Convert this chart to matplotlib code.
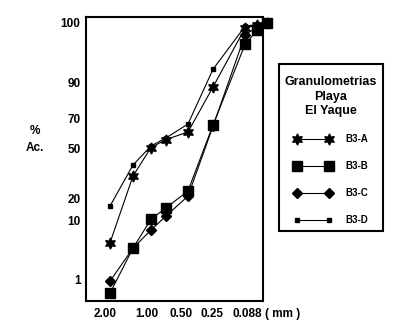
import numpy as np
import matplotlib
matplotlib.use("Agg")
import matplotlib.pyplot as plt
from matplotlib.patches import Rectangle

plt.rcParams['font.family'] = ['Liberation Sans', 'DejaVu Sans']
plt.rcParams['font.weight'] = 'bold'

# sieve openings (mm) and cumulative % for each sample
tamiz = [2.00, 1.41, 1.00, 0.71, 0.50, 0.25, 0.088, 0.063, 0.044]
b3a = [4.2, 30.5, 50.8, 55.6, 60.5, 87.5, 99.1, 99.6, 100.0]
b3b = [0.57, 3.4, 10.6, 15.1, 23.2, 65.4, 96.3, 98.7, 100.0]
b3c = [0.92, 3.4, 7.0, 11.7, 21.1, 64.5, 97.9, 99.3, 100.0]
b3d = [16.0, 37.3, 51.7, 56.6, 66.2, 92.2, 99.4, 99.8, 100.0]

x_labels = ["2.00", "1.00", "0.50", "0.25", "0.088"]
y_ticks = [1, 10, 20, 50, 70, 90, 100]

# uneven sheet scales: nodes -> position along the axis
xs_nodes = np.array([4.0, 2.0, 1.41, 1.0, 0.71, 0.5, 0.25, 0.088, 0.063, 0.044, 0.022])
xs_place = np.array([69, 110, 133, 151, 166, 188, 213, 245, 257, 267, 287], float)
ys_nodes = np.array([0.1, 1, 10, 20, 50, 70, 90, 100, 110])
ys_place = np.array([-36, 22, 80, 102, 152, 182, 218, 278, 332], float)

def fwd_x(v):
    v = np.clip(np.asarray(v, float), 1e-6, None)
    return np.interp(-np.log2(v), -np.log2(xs_nodes), xs_place)

def inv_x(p):
    return 2.0 ** (-np.interp(p, xs_place, -np.log2(xs_nodes)))

def fwd_y(v):
    v = np.clip(np.asarray(v, float), 1e-6, None)
    return np.interp(np.log10(v), np.log10(ys_nodes), ys_place)

def inv_y(p):
    return 10.0 ** np.interp(p, ys_place, np.log10(ys_nodes))

W, H = 397, 329
fig = plt.figure(figsize=(W / 100, H / 100), dpi=100)
ax = fig.add_axes([86 / W, (H - 301) / H, (263 - 86) / W, (301 - 17) / H])
ax.set_xscale('function', functions=(fwd_x, inv_x))
ax.set_yscale('function', functions=(fwd_y, inv_y))

kw = dict(color='black', lw=0.8, clip_on=False)
ax.plot(tamiz, b3a, marker=(6, 1, 0), ms=8, label='B3-A', **kw)
ax.plot(tamiz, b3b, marker='s', ms=7.5, label='B3-B', **kw)
ax.plot(tamiz, b3c, marker='D', ms=5.5, label='B3-C', **kw)
ax.plot(tamiz, b3d, marker='s', ms=2.5, label='B3-D', **kw)

ax.set_xlim(inv_x(263), inv_x(86))
ax.set_ylim(inv_y(0), inv_y(284))

ax.set_xticks(inv_x(np.array([105, 147, 181, 212, 247], float)))
ax.set_xticklabels(x_labels)
ax.set_yticks(y_ticks)
ax.set_yticklabels([str(t) for t in y_ticks])
ax.minorticks_off()
ax.tick_params(length=0, labelsize=8.5)
ax.tick_params(axis='x', pad=5)
ax.tick_params(axis='y', pad=4)
for s in ax.spines.values():
    s.set_linewidth(1.5)

fig.text(35 / W, 1 - 131 / H, '%', ha='center', va='center', fontsize=8.5)
fig.text(35 / W, 1 - 148 / H, 'Ac.', ha='center', va='center', fontsize=8.5)
fig.text(265 / W, 1 - 314 / H, '( mm )', ha='left', va='center', fontsize=8.5)

# legend box drawn on its own, content placed inside it
fig.patches.append(Rectangle((279 / W, 1 - 231 / H), 104 / W, 167 / H,
                             transform=fig.transFigure, fill=False,
                             ec='black', lw=1.5))
leg = ax.legend(loc='upper center', bbox_to_anchor=(331 / W, 1 - 70 / H),
                bbox_transform=fig.transFigure, numpoints=2, fontsize=7,
                title='Granulometrias\nPlaya\nEl Yaque',
                title_fontproperties={'size': 9, 'weight': 'bold'},
                handlelength=3.9, handletextpad=1.3, labelspacing=1.75,
                borderpad=0.6, borderaxespad=0, frameon=False)
leg.get_title().set_multialignment('center')
leg.get_title().set_linespacing(1.3)

fig.savefig('out.png', dpi=100)
